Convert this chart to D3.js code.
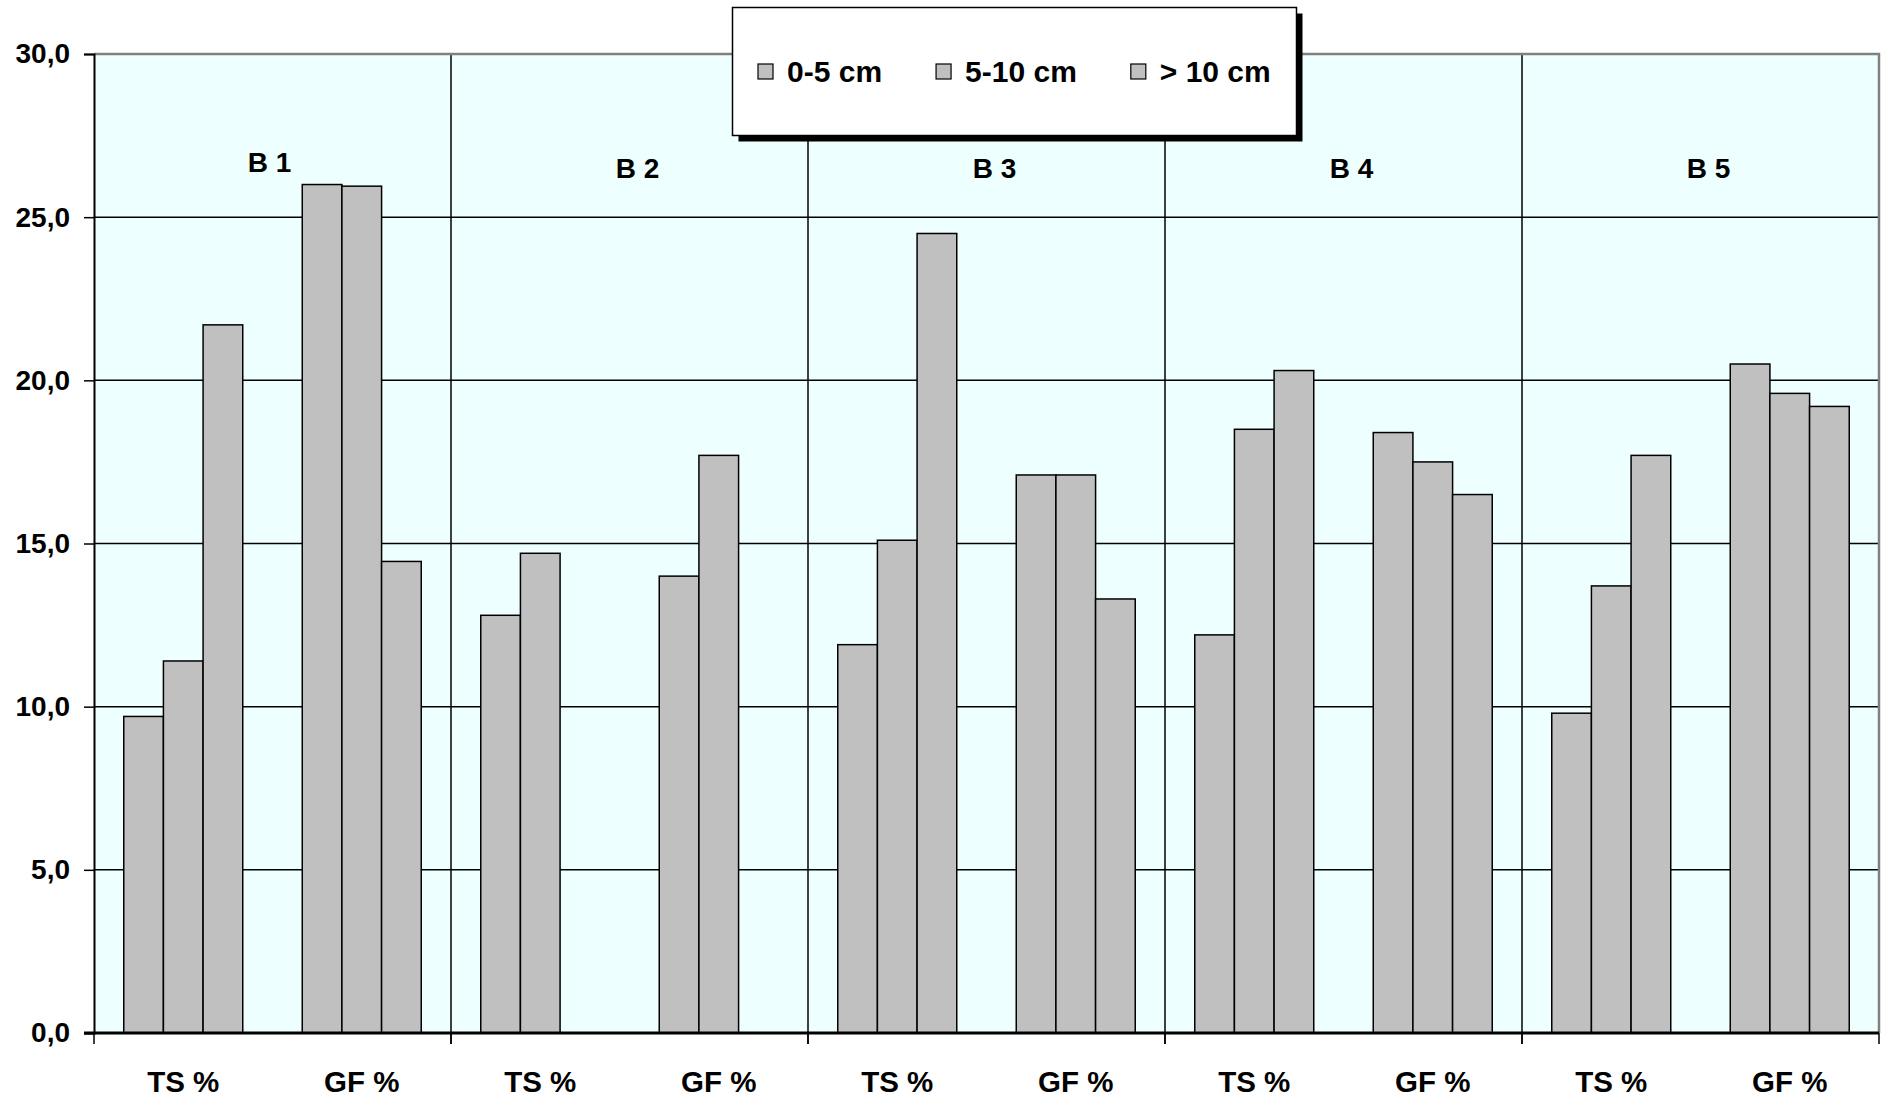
<!DOCTYPE html>
<html>
<head>
<meta charset="utf-8">
<script src="https://cdn.jsdelivr.net/npm/d3@7"></script>
<style>
  body { margin: 0; background: #fff; }
  text { font-family: "Liberation Sans", Arial, sans-serif; font-weight: bold; fill: #000; }
</style>
</head>
<body>
<script>
// donnees
var groupes = ["B 1", "B 2", "B 3", "B 4", "B 5"];
var mesures = ["TS %", "GF %"];
var series = ["0-5 cm", "5-10 cm", "> 10 cm"];
// une liste par serie, ordre : B1 TS, B1 GF, B2 TS, B2 GF, ...
var val_0_5 = [9.7, 26.0, 12.8, 14.0, 11.9, 17.1, 12.2, 18.4, 9.8, 20.5];
var val_5_10 = [11.4, 25.95, 14.7, 17.7, 15.1, 17.1, 18.5, 17.5, 13.7, 19.6];
var val_10 = [21.7, 14.45, null, null, 24.5, 13.3, 20.3, 16.5, 17.7, 19.2];
var yTicks = [0, 5, 10, 15, 20, 25, 30];

var larg = 1881, haut = 1101;
var mGauche = 94, mDroite = 1879, mHaut = 54, mBas = 1033;

var valeurs = [val_0_5, val_5_10, val_10];
var donnees = [];
groupes.forEach(function(g, gi) {
  mesures.forEach(function(m, mi) {
    series.forEach(function(s, si) {
      var v = valeurs[si][gi * 2 + mi];
      if (v != null) donnees.push({groupe: g, mesure: m, serie: s, valeur: v});
    });
  });
});

var svg = d3.select("body").append("svg")
  .attr("width", larg)
  .attr("height", haut);

var x0 = d3.scaleBand().domain(groupes).range([mGauche, mDroite]);
var x1 = d3.scaleBand().domain(mesures).range([0, x0.bandwidth()]);
var x2 = d3.scaleBand().domain(series).range([0, x1.bandwidth()]).paddingOuter(0.75);
var y = d3.scaleLinear().domain([0, 30]).range([mBas, mHaut]);

// fond de la zone de trace
svg.append("rect")
  .attr("x", mGauche).attr("y", mHaut)
  .attr("width", mDroite - mGauche).attr("height", mBas - mHaut)
  .attr("fill", "#EEFFFF");

// quadrillage horizontal
svg.selectAll("line.hgrid")
  .data(yTicks.slice(1, -1))
  .enter().append("line")
  .attr("x1", mGauche).attr("x2", mDroite)
  .attr("y1", function(d) { return y(d); })
  .attr("y2", function(d) { return y(d); })
  .attr("stroke", "#000").attr("stroke-width", 1.5);

// separations verticales entre groupes
svg.selectAll("line.vgrid")
  .data(groupes.slice(1))
  .enter().append("line")
  .attr("x1", function(d) { return x0(d); })
  .attr("x2", function(d) { return x0(d); })
  .attr("y1", mHaut).attr("y2", mBas + 11)
  .attr("stroke", "#000").attr("stroke-width", 1.5);

// bordure grise haut / droite
svg.append("path")
  .attr("d", "M" + mGauche + "," + mHaut + "H" + mDroite + "V" + mBas)
  .attr("fill", "none").attr("stroke", "#808080").attr("stroke-width", 2.5);

// barres
svg.selectAll("rect.barre")
  .data(donnees)
  .enter().append("rect")
  .attr("x", function(d) { return x0(d.groupe) + x1(d.mesure) + x2(d.serie); })
  .attr("y", function(d) { return y(d.valeur); })
  .attr("width", x2.bandwidth())
  .attr("height", function(d) { return y(0) - y(d.valeur); })
  .attr("fill", "#C0C0C0")
  .attr("stroke", "#000").attr("stroke-width", 1.5);

// axe Y
var axeY = svg.append("g")
  .attr("transform", "translate(" + mGauche + ",0)")
  .call(d3.axisLeft(y).tickValues(yTicks).tickSize(10).tickPadding(14)
    .tickFormat(function(d) { return d3.format(".1f")(d).replace(".", ","); }));
axeY.select(".domain").attr("stroke", "#000").attr("stroke-width", 2);
axeY.selectAll(".tick line").attr("stroke", "#000").attr("stroke-width", 1.5);
axeY.selectAll("text").attr("font-size", "28px").attr("font-family", null);

// axe X
svg.append("line")
  .attr("x1", mGauche - 10).attr("x2", mDroite)
  .attr("y1", mBas).attr("y2", mBas)
  .attr("stroke", "#000").attr("stroke-width", 3);
svg.selectAll("line.xtick")
  .data(groupes.concat(["fin"]))
  .enter().append("line")
  .attr("x1", function(d, i) { return i < groupes.length ? x0(d) : mDroite; })
  .attr("x2", function(d, i) { return i < groupes.length ? x0(d) : mDroite; })
  .attr("y1", mBas).attr("y2", mBas + 11)
  .attr("stroke", "#000").attr("stroke-width", 1.5);

var etiquettes = [];
groupes.forEach(function(g) {
  mesures.forEach(function(m) { etiquettes.push({groupe: g, mesure: m}); });
});
svg.selectAll("text.xlab")
  .data(etiquettes)
  .enter().append("text")
  .attr("x", function(d) { return x0(d.groupe) + x1(d.mesure) + x1.bandwidth() / 2; })
  .attr("y", 1092)
  .attr("text-anchor", "middle")
  .attr("font-size", "29.5px")
  .text(function(d) { return d.mesure; });

// noms des groupes
svg.selectAll("text.glab")
  .data(groupes)
  .enter().append("text")
  .attr("x", function(d, i) { return x0(d) + x0.bandwidth() / 2 + (i == 0 ? -3 : 8); })
  .attr("y", function(d, i) { return i == 0 ? 172 : 178; })
  .attr("text-anchor", "middle")
  .attr("font-size", "28px")
  .text(function(d) { return d; });

// legende
var leg = svg.append("g");
leg.append("rect")
  .attr("x", 738.5).attr("y", 13.5).attr("width", 564).attr("height", 128)
  .attr("fill", "#000");
leg.append("rect")
  .attr("x", 732.5).attr("y", 7.5).attr("width", 564).attr("height", 128)
  .attr("fill", "#fff").attr("stroke", "#000").attr("stroke-width", 1.5);
var lx = 758;
series.forEach(function(s) {
  leg.append("rect")
    .attr("x", lx).attr("y", 64).attr("width", 15).attr("height", 15)
    .attr("fill", "#C0C0C0").attr("stroke", "#000").attr("stroke-width", 1.2);
  var t = leg.append("text")
    .attr("x", lx + 29).attr("y", 82)
    .attr("font-size", "30px")
    .text(s);
  lx = lx + 29 + t.node().getComputedTextLength() + 54;
});
</script>
</body>
</html>
